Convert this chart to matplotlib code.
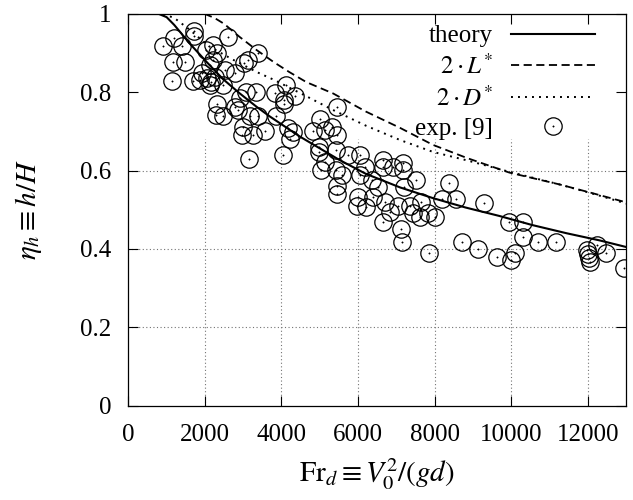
import numpy as np
import matplotlib
matplotlib.use("Agg")
import matplotlib.pyplot as plt
from matplotlib.legend_handler import HandlerTuple

plt.rcParams['font.family'] = ['Liberation Serif', 'DejaVu Serif']
plt.rcParams['mathtext.fontset'] = 'stix'

# theory curve
fr_theory = [0, 800, 1000, 1200, 1600, 2050, 2470, 2900, 3350, 3700, 4480,
             5500, 6200, 7100, 7950, 8800, 9700, 10550, 11450, 12300, 13000]
eta_theory = [1.0, 1.0, 0.992, 0.972, 0.925, 0.877, 0.834, 0.798, 0.763, 0.738, 0.687,
              0.628, 0.592, 0.557, 0.530, 0.506, 0.484, 0.461, 0.440, 0.422, 0.405]

# 2*L*
fr_L = [0, 2000, 2250, 2500, 2900, 3350, 3800, 4200, 4650, 5350, 6200,
        7100, 7950, 8850, 9950, 11250, 12100, 13000]
eta_L = [1.0, 1.0, 0.99, 0.975, 0.942, 0.908, 0.877, 0.852, 0.826, 0.797, 0.751,
         0.709, 0.666, 0.632, 0.595, 0.565, 0.543, 0.519]

# 2*D*
fr_D = [0, 900, 1200, 1600, 2100, 2700, 3350, 3800, 4650, 5300, 6200,
        7100, 7950, 8850, 9950, 11250, 12100, 13000]
eta_D = [1.0, 1.0, 0.99, 0.96, 0.918, 0.885, 0.852, 0.832, 0.79, 0.757, 0.715,
         0.678, 0.648, 0.626, 0.597, 0.565, 0.542, 0.516]

# experiment [9]
fr_exp = [1713, 1713, 1192, 905, 1400, 2600, 1166, 1479, 1140, 1687,
          2026, 2209, 2313, 2209, 2131, 2522, 2783, 3017, 3122, 3383,
          1922, 1870, 2052, 2157, 2131, 2261, 2470, 3070, 3330, 2913,
          2313, 2287, 2470, 2783, 2861, 3174, 2991, 2965, 3252, 3383,
          3148, 4035, 4113, 3826, 4061, 4347, 4061, 3852, 3565, 4165,
          4295, 4217, 5443, 5000, 4817, 5130, 5312, 5443, 4973, 4973,
          5130, 5417, 5730, 6043, 6173, 6643, 6643, 6903, 7164, 7164,
          7503, 7190, 5026, 5417, 5573, 6043, 6356, 6512, 5443, 5443,
          5991, 6382, 5965, 6199, 6695, 6825, 7034, 6643, 7347, 7425,
          7634, 7608, 7816, 7999, 7112, 7138, 7842, 8181, 8364, 8546,
          9277, 8703, 9120, 9616, 9929, 10294, 10294, 10085, 9981, 10685,
          11180, 11989, 12015, 12041, 12067, 12250, 12484, 12954]
eta_exp = [0.957, 0.944, 0.939, 0.919, 0.919, 0.941, 0.878, 0.878, 0.829, 0.829,
           0.908, 0.921, 0.901, 0.883, 0.870, 0.857, 0.850, 0.875, 0.883, 0.901,
           0.850, 0.832, 0.837, 0.827, 0.819, 0.839, 0.819, 0.801, 0.801, 0.786,
           0.770, 0.742, 0.740, 0.763, 0.755, 0.740, 0.712, 0.691, 0.691, 0.740,
           0.630, 0.640, 0.819, 0.798, 0.781, 0.791, 0.770, 0.740, 0.701, 0.709,
           0.699, 0.681, 0.763, 0.732, 0.701, 0.704, 0.712, 0.691, 0.661, 0.648,
           0.622, 0.653, 0.640, 0.640, 0.609, 0.627, 0.609, 0.609, 0.620, 0.602,
           0.576, 0.558, 0.602, 0.602, 0.589, 0.589, 0.576, 0.558, 0.561, 0.540,
           0.533, 0.533, 0.510, 0.507, 0.520, 0.495, 0.510, 0.469, 0.510, 0.492,
           0.520, 0.482, 0.492, 0.482, 0.451, 0.418, 0.390, 0.528, 0.569, 0.528,
           0.518, 0.418, 0.400, 0.380, 0.469, 0.469, 0.431, 0.390, 0.372, 0.418,
           0.418, 0.397, 0.387, 0.377, 0.367, 0.410, 0.390, 0.351]

xticks = [0, 2000, 4000, 6000, 8000, 10000, 12000]
yticks = [0, 0.2, 0.4, 0.6, 0.8, 1]
ytick_labels = ['0', '0.2', '0.4', '0.6', '0.8', '1']

fig = plt.figure(figsize=(6.33, 5.0), dpi=100)
ax = fig.add_axes([0.2027, 0.1888, 0.7865, 0.7832])

# grid (hidden behind the key area, as in the original)
grid_kw = dict(color='0.45', lw=0.8, linestyle=(0, (1, 2.2)), zorder=0)
for yv in [0.2, 0.4, 0.6]:
    ax.axhline(yv, **grid_kw)
for xv in xticks[1:]:
    ax.plot([xv, xv], [0, 0.68], **grid_kw)

l_th, = ax.plot(fr_theory, eta_theory, color='k', lw=1.5)
l_L, = ax.plot(fr_L, eta_L, color='k', lw=1.3, linestyle=(0, (4.5, 2.5)))
l_D, = ax.plot(fr_D, eta_D, color='k', lw=1.4, linestyle=(0, (1, 2.6)))
circ, = ax.plot(fr_exp, eta_exp, 'o', ms=12.5, mfc='none', mec='k', mew=0.9)
dots, = ax.plot(fr_exp, eta_exp, 'o', ms=1.0, mfc='k', mec='k', mew=0.3)

ax.set_xlim(0, 13000)
ax.set_ylim(0, 1)
ax.set_xticks(xticks)
ax.set_xticklabels([str(v) for v in xticks])
ax.set_yticks(yticks)
ax.set_yticklabels(ytick_labels)
ax.tick_params(direction='in', length=7, width=0.8, top=True, right=True,
               labelsize=18)
ax.tick_params(axis='x', pad=13.5)
ax.tick_params(axis='y', pad=12)
for s in ax.spines.values():
    s.set_linewidth(0.9)

ax.set_xlabel(r'$\mathrm{Fr}_d \equiv V_0^2/(gd)$', fontsize=21, labelpad=7)
ax.set_ylabel(r'$\eta_h \equiv h/H$', fontsize=21, labelpad=26)

leg = ax.legend([l_th, l_L, l_D, (circ, dots)],
                ['theory', r'$2\cdot L^{*}$', r'$2\cdot D^{*}$', 'exp. [9]'],
                handler_map={tuple: HandlerTuple(ndivide=1, pad=0)},
                loc='upper right', bbox_to_anchor=(0.937, 0.972),
                frameon=False, markerfirst=False, fontsize=18,
                handlelength=3.36, handletextpad=0.72, labelspacing=0.27,
                borderpad=0, borderaxespad=0)
for t in leg.get_texts():
    t.set_ha('right')

fig.savefig('out.png', dpi=100)
